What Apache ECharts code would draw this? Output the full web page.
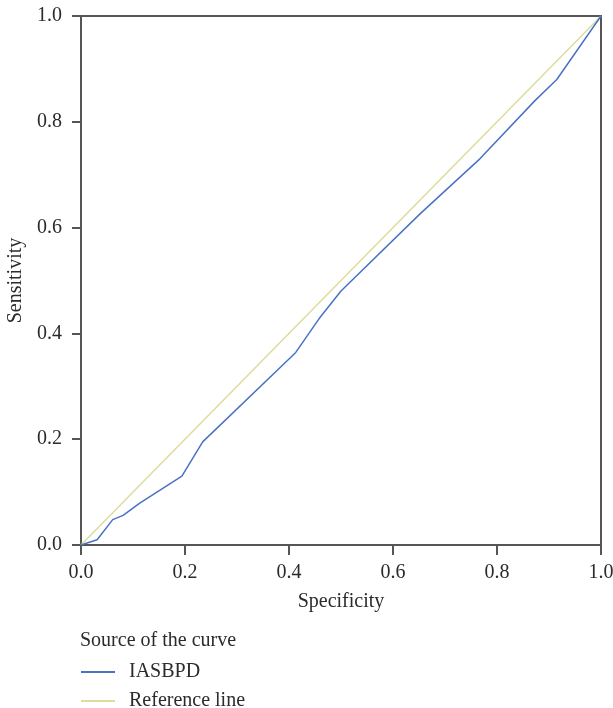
<!DOCTYPE html>
<html>
<head>
<meta charset="utf-8">
<script src="https://cdn.jsdelivr.net/npm/echarts@6/dist/echarts.min.js"></script>
<style>
html,body{margin:0;padding:0;background:#fff;}
#chart{width:613px;height:708px;}
</style>
</head>
<body>
<div id="chart"></div>
<script>
var curveX = [0, 0.031, 0.061, 0.081, 0.113, 0.194, 0.234, 0.413, 0.458, 0.5, 0.652, 0.767, 0.873, 0.915, 1];
var curveY = [0, 0.010, 0.048, 0.056, 0.079, 0.130, 0.195, 0.364, 0.428, 0.48, 0.626, 0.730, 0.840, 0.880, 1];
var refX = [0, 1];
var refY = [0, 1];
var seriesNames = ['IASBPD', 'Reference line'];
var legendTitle = 'Source of the curve';

function pairs(xs, ys){ return xs.map(function(x,i){ return [x, ys[i]]; }); }
var FONT = '"Liberation Serif", "DejaVu Serif", serif';
var axisCol = '#555555';
var textCol = '#2b2b2b';
var chart = echarts.init(document.getElementById('chart'));
chart.setOption({
  animation:false,
  backgroundColor:'#fff',
  title:{
    text: legendTitle, left: 80, top: 631, padding:0,
    textStyle:{fontFamily:FONT, fontSize:20, fontWeight:'normal', color:textCol, lineHeight:20}
  },
  legend:{
    orient:'vertical', left:81, top:662, height:60, padding:0,
    data: seriesNames,
    icon:'rect', itemWidth:34, itemHeight:2, itemGap:9,
    textStyle:{fontFamily:FONT, fontSize:20, color:textCol, lineHeight:18, padding:[0,0,0,9]}
  },
  grid:{left:81, right:12, top:16, bottom:163, show:true, borderColor:axisCol, borderWidth:2, containLabel:false, outerBoundsMode:'none'},
  xAxis:{
    type:'value', min:0, max:1, interval:0.2,
    name:'Specificity', nameLocation:'middle', nameGap:47,
    nameTextStyle:{fontFamily:FONT, fontSize:20, color:textCol},
    axisLine:{show:true, lineStyle:{color:axisCol, width:2}},
    axisTick:{show:true, length:10, lineStyle:{color:axisCol, width:2}},
    axisLabel:{fontFamily:FONT, fontSize:20, color:textCol, margin:18, formatter:function(v){return v.toFixed(1);}},
    splitLine:{show:false}
  },
  yAxis:{
    type:'value', min:0, max:1, interval:0.2,
    name:'Sensitivity', nameLocation:'middle', nameGap:51,
    nameTextStyle:{fontFamily:FONT, fontSize:20, color:textCol},
    axisLine:{show:true, lineStyle:{color:axisCol, width:2}},
    axisTick:{show:true, length:9, lineStyle:{color:axisCol, width:2}},
    axisLabel:{fontFamily:FONT, fontSize:20, color:textCol, margin:19, formatter:function(v){return v.toFixed(1);}},
    splitLine:{show:false}
  },
  series:[
    {name:seriesNames[0], type:'line', data:pairs(curveX, curveY), symbol:'none', lineStyle:{color:'#4a72c4', width:1.5}, itemStyle:{color:'#4a72c4'}, z:3},
    {name:seriesNames[1], type:'line', data:pairs(refX, refY), symbol:'none', lineStyle:{color:'#dcdc9c', width:1.5}, itemStyle:{color:'#dcdc9c'}, z:2}
  ]
});
</script>
</body>
</html>
